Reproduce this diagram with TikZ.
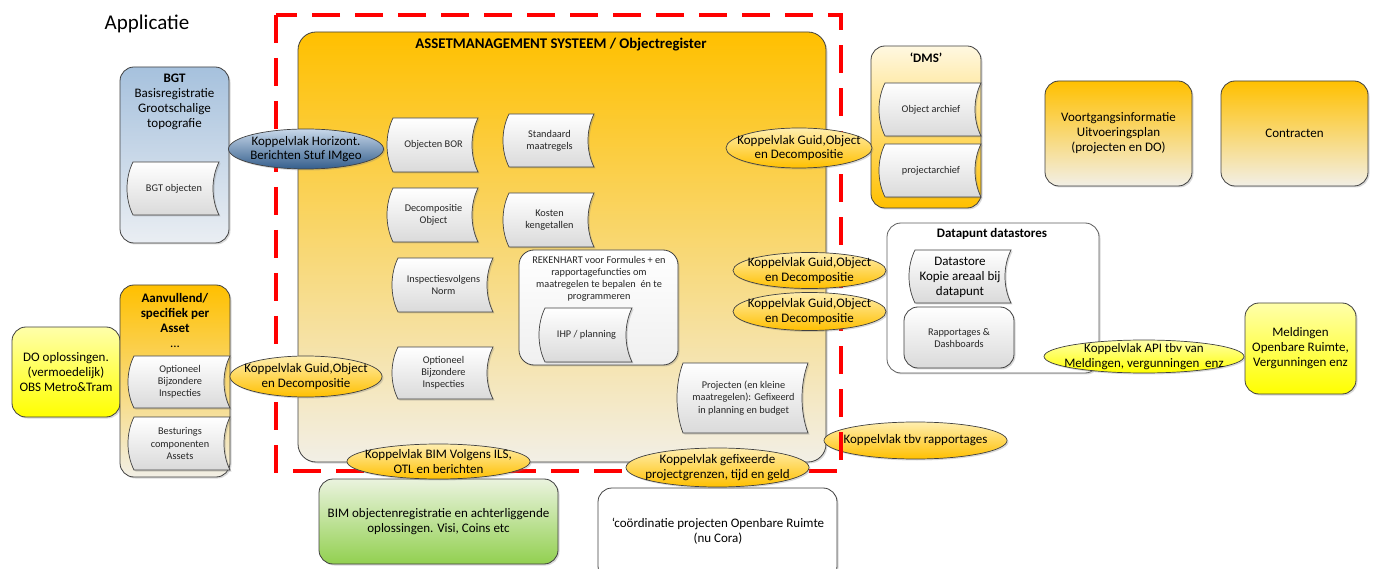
\documentclass[tikz,border=0pt]{standalone}
\usepackage{fontspec}
\setmainfont{Carlito}
\usetikzlibrary{shapes.geometric,shadows}
\definecolor{bord}{RGB}{64,64,64}
\definecolor{orgtop}{RGB}{255,192,0}
\definecolor{orgbot}{RGB}{242,239,230}
\definecolor{creamtop}{RGB}{255,248,225}
\definecolor{elltop}{RGB}{255,238,175}
\definecolor{ellbot}{RGB}{255,192,0}
\definecolor{bluetop}{RGB}{200,216,234}
\definecolor{bluebot}{RGB}{52,94,140}
\definecolor{bgttop}{RGB}{166,193,221}
\definecolor{bgtbot}{RGB}{234,238,243}
\definecolor{yeltop}{RGB}{255,255,170}
\definecolor{yelbot}{RGB}{255,255,0}
\definecolor{grntop}{RGB}{234,243,222}
\definecolor{grnbot}{RGB}{146,208,80}
\definecolor{docbot}{RGB}{218,218,218}
\definecolor{smallink}{RGB}{38,38,38}
\tikzset{
  shad/.style={drop shadow={shadow xshift=1.5pt,shadow yshift=-1.5pt,opacity=0.3}},
  bigtxt/.style={font=\fontsize{13}{15}\selectfont,align=center,inner sep=0pt},
  boldtxt/.style={font=\bfseries\fontsize{13}{15}\selectfont,align=center,inner sep=0pt},
  smalltxt/.style={font=\fontsize{10.3}{12.2}\selectfont,align=center,inner sep=0pt,text=smallink},
  basebox/.style={draw=bord,line width=0.8pt,rounded corners=14pt,shad,inner sep=0pt,align=center,font=\fontsize{13}{15}\selectfont},
  obox/.style={basebox,top color=orgtop,bottom color=orgbot},
  dmsbox/.style={basebox,top color=creamtop,bottom color=orgtop},
  bgtbox/.style={basebox,top color=bgttop,bottom color=bgtbot},
  ybox/.style={basebox,top color=yeltop,bottom color=yelbot},
  gbox/.style={basebox,top color=grntop,bottom color=grnbot},
  wbox/.style={basebox,fill=white},
  greybox/.style={basebox,top color=white,bottom color=docbot},
  docsty/.style={draw=bord,line width=0.7pt,top color=white,bottom color=docbot,shad},
  ellorange/.style={draw=bord,line width=0.7pt,top color=elltop,bottom color=ellbot,shad},
  ellblue/.style={draw=bord,line width=0.7pt,top color=bluetop,bottom color=bluebot,shad},
  ellyellow/.style={draw=bord,line width=0.7pt,top color=yeltop,bottom color=yelbot,shad},
  reddash/.style={draw=red,line width=4pt,dash pattern=on 28pt off 15pt}
}
% document (stored data) shape: name, left, top, right, bottom, text
\newcommand{\docshape}[6]{%
  \draw[docsty] ({#2+6},#3) -- (#4,#3)
    .. controls ({#4-8},{#3+0.3*(#5-#3)}) and ({#4-8},{#5-0.3*(#5-#3)}) .. (#4,#5)
    -- ({#2+6},#5)
    .. controls ({#2-2},{#5-0.3*(#5-#3)}) and ({#2-2},{#3+0.3*(#5-#3)}) .. cycle;
  \node[smalltxt] (#1) at ({(#2+#4)/2+1},{(#3+#5)/2}) {#6};
}
% interface ellipse: name, cx, cy, rx, ry, style, text
\newcommand{\koppel}[7]{%
  \draw[#6] (#2,#3) ellipse [x radius=#4pt, y radius=#5pt];
  \node[bigtxt,font=\fontsize{13}{14.5}\selectfont] (#1) at (#2,#3) {#7};
}
\begin{document}
\begin{tikzpicture}[x=1pt,y=-1pt]
\useasboundingbox (0,0) rectangle (1374,569);
\clip (0,0) rectangle (1374,569);

\node[font=\fontsize{21}{25}\selectfont,inner sep=0pt] (appl) at (147,24) {Applicatie};

% main system
\node[obox,rounded corners=18pt,minimum width=528pt,minimum height=430pt] (ams) at (562,247) {};
\node[inner sep=0pt,font=\bfseries\fontsize{14.8}{17}\selectfont] (amstitle) at (561,45) {ASSETMANAGEMENT SYSTEEM / Objectregister};

\docshape{bor}{387}{118}{478}{172}{Objecten BOR}
\docshape{stdm}{503}{114}{594}{167}{Standaard\\maatregels}
\docshape{decomp}{387}{188}{478}{242}{Decompositie\\Object}
\docshape{kosten}{503}{193}{594}{247}{Kosten\\kengetallen}
\docshape{insp}{392}{258}{493}{312}{Inspectiesvolgens\\Norm}
\docshape{optm}{392}{347}{493}{399}{Optioneel\\Bijzondere\\Inspecties}

\node[basebox,top color=white,bottom color=white!94!black,minimum width=159pt,minimum height=115pt,rounded corners=15pt] (rek) at (598.5,307.5) {};
\node[smalltxt] (rektxt) at (599,279) {REKENHART voor Formules + en\\rapportagefuncties om\\maatregelen te bepalen~ én te\\programmeren};
\docshape{ihp}{539}{308}{632}{362}{IHP / planning}
\docshape{proj}{677}{363}{808}{433}{Projecten (en kleine\\maatregelen): Gefixeerd\\in planning en budget}

% BGT
\node[bgtbox,minimum width=109pt,minimum height=176pt] (bgt) at (174.5,155) {};
\node[bigtxt] (bgttxt) at (174.5,101.5) {\textbf{BGT}\\Basisregistratie\\Grootschalige\\topografie};
\docshape{bgtobj}{127}{162}{219}{215}{BGT objecten}

% DO + Aanvullend
\node[ybox,minimum width=108pt,minimum height=90pt] (do) at (66,372) {DO oplossingen.\\(vermoedelijk)\\OBS Metro\&Tram};
\node[obox,minimum width=110pt,minimum height=192pt] (aanv) at (175,381) {};
\node[bigtxt] (aanvtxt) at (175,320.5) {\textbf{Aanvullend/}\\\textbf{specifiek per}\\\textbf{Asset}\\...};
\docshape{opta}{128}{356}{230}{408}{Optioneel\\Bijzondere\\Inspecties}
\docshape{best}{128}{417}{230}{470}{Besturings\\componenten\\Assets}

% DMS
\node[dmsbox,minimum width=110pt,minimum height=162pt] (dms) at (926,127) {};
\node[boldtxt] (dmstxt) at (926,58) {‘DMS’};
\docshape{objarch}{879}{83}{981}{136}{Object archief}
\docshape{projarch}{879}{144}{981}{197}{projectarchief}

% right boxes
\node[obox,minimum width=147pt,minimum height=105pt] (voort) at (1118.5,133.5) {Voortgangsinformatie\\Uitvoeringsplan\\(projecten en DO)};
\node[obox,minimum width=147pt,minimum height=105pt] (contr) at (1294.5,133.5) {Contracten};

\node[wbox,draw=bord!85,minimum width=212pt,minimum height=150pt] (datapunt) at (993,298) {};
\node[boldtxt] (dptxt) at (992,234) {Datapunt datastores};
\draw[docsty] (915,250) -- (1011,250)
  .. controls (1003,266) and (1003,287) .. (1011,303) -- (915,303)
  .. controls (907,287) and (907,266) .. cycle;
\node[bigtxt] (datastore) at (960,277) {Datastore\\Kopie areaal bij\\datapunt};
\node[greybox,minimum width=110pt,minimum height=61pt] (rapp) at (959,337.5) {};
\node[smalltxt] (rapptxt) at (959,338) {Rapportages \&\\Dashboards};

\node[ybox,minimum width=111pt,minimum height=91pt] (meld) at (1300.5,348.5) {Meldingen\\Openbare Ruimte,\\Vergunningen enz};

% bottom boxes
\node[gbox,minimum width=239pt,minimum height=85pt] (bim) at (438.5,521.5) {BIM objectenregistratie en achterliggende\\oplossingen. Visi, Coins etc};
\node[wbox,minimum width=239pt,minimum height=92pt] (cora) at (717.5,534) {};
\node[bigtxt] (coratxt) at (718,531) {‘coördinatie projecten Openbare Ruimte\\(nu Cora)};

% interfaces
\koppel{krapp}{915.5}{440.5}{91.5}{18.5}{ellorange}{Koppelvlak tbv rapportages}

\draw[reddash] (276,15) rectangle (841,471);

\koppel{khor}{306}{149}{77.5}{20}{ellblue}{Koppelvlak Horizont.\\Berichten Stuf IMgeo}
\koppel{kdms}{799}{148}{73}{20}{ellorange}{Koppelvlak Guid,Object\\en Decompositie}
\koppel{kdp1}{809.5}{270.5}{76.5}{18}{ellorange}{Koppelvlak Guid,Object\\en Decompositie}
\koppel{kdp2}{809.5}{311.5}{76.5}{19}{ellorange}{Koppelvlak Guid,Object\\en Decompositie}
\koppel{kaanv}{306}{376.5}{76}{20.5}{ellorange}{Koppelvlak Guid,Object\\en Decompositie}
\koppel{kbim}{438.5}{461.5}{91.5}{17.5}{ellorange}{Koppelvlak BIM Volgens ILS,\\OTL en berichten}
\koppel{kfix}{717.5}{467.5}{91.5}{19.5}{ellorange}{Koppelvlak gefixeerde\\projectgrenzen, tijd en geld}
\koppel{kapi}{1144}{356.5}{100}{16.5}{ellyellow}{Koppelvlak API tbv van\\Meldingen, vergunningen~ enz}
\end{tikzpicture}
\end{document}
